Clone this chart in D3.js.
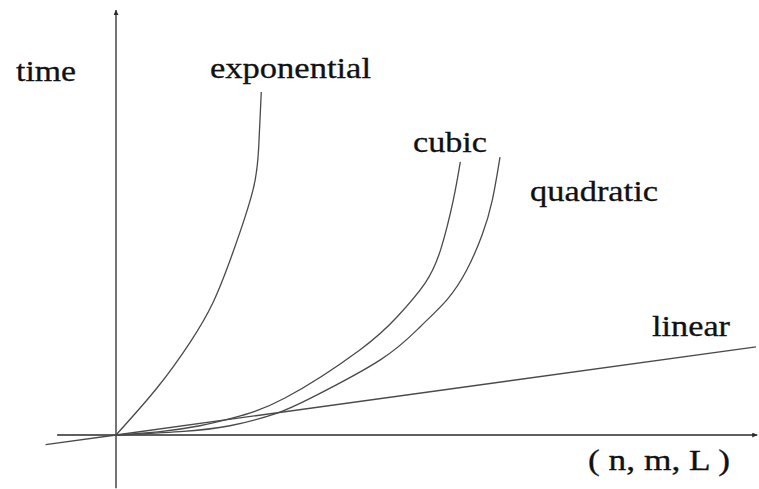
<!DOCTYPE html>
<html>
<head>
<meta charset="utf-8">
<script src="https://cdn.jsdelivr.net/npm/d3@7"></script>
<style>
	body { margin: 0; background: #fff; }
	svg { display: block; }
	.curve { fill: none; stroke: #4a4a4a; stroke-width: 1.3; }
	.axis-line { stroke: #2a2a2a; stroke-width: 1.3; }
</style>
</head>
<body>
<svg id="chart" width="759" height="489"></svg>
<script>

// Growth curves (arbitrary units)
const expX   = [0, 0.64, 1.16, 1.52, 1.83, 2.14, 2.23, 2.27];
const expY   = [0, 1.37, 2.71, 3.88, 5.34, 7.14, 8.40, 10.0];

const cubicX = [0, 0.69, 1.31, 1.83, 2.64, 3.81, 4.39, 4.83, 5.08, 5.27, 5.38];
const cubicY = [0, 0.10, 0.27, 0.50, 1.08, 2.48, 3.44, 4.43, 5.45, 6.85, 7.96];

const quadX  = [0, 1.00, 1.78, 2.52, 3.08, 4.13, 4.75, 5.17, 5.48, 5.72, 5.88, 6.00];
const quadY  = [0, 0.10, 0.27, 0.64, 1.11, 2.19, 3.15, 3.94, 4.81, 5.83, 6.85, 8.10];

const linX   = [-1.1, 0, 10.0];
const linY   = [-0.28, 0, 2.57];

// axis extents
const xAxisRange = [-0.92, 10.02];
const yAxisRange = [-1.55, 12.39];

const labels = ["time", "exponential", "cubic", "quadratic", "linear", "( n, m, L )"];

const width = 759, height = 489;

// Scales
const xScale = d3.scaleLinear().domain([0, 10]).range([116, 756]);
const yScale = d3.scaleLinear().domain([0, 10]).range([435, 92]);

const svg = d3.select("#chart");

// arrow head
svg.append("defs")
	.append("marker")
		.attr("id", "arrow")
		.attr("viewBox", "0 0 10 10")
		.attr("refX", 10)
		.attr("refY", 5)
		.attr("markerWidth", 9)
		.attr("markerHeight", 5)
		.attr("markerUnits", "userSpaceOnUse")
		.attr("orient", "auto")
	.append("path")
		.attr("d", "M0,0 L10,5 L0,10 z")
		.attr("fill", "#2a2a2a");

// Axes
svg.append("line")
	.classed("axis-line", true)
	.attr("x1", xScale(xAxisRange[0]))
	.attr("y1", yScale(0))
	.attr("x2", xScale(xAxisRange[1]))
	.attr("y2", yScale(0))
	.attr("marker-end", "url(#arrow)");

svg.append("line")
	.classed("axis-line", true)
	.attr("x1", xScale(0))
	.attr("y1", yScale(yAxisRange[0]))
	.attr("x2", xScale(0))
	.attr("y2", yScale(yAxisRange[1]))
	.attr("marker-end", "url(#arrow)");

// Curves - natural spline keeps the bends smooth
const series = [
	{ xs: expX, ys: expY, curve: d3.curveNatural },
	{ xs: cubicX, ys: cubicY, curve: d3.curveNatural },
	{ xs: quadX, ys: quadY, curve: d3.curveNatural },
	{ xs: linX, ys: linY, curve: d3.curveLinear }
];

svg.selectAll(".curve")
	.data(series)
	.enter()
	.append("path")
		.classed("curve", true)
		.attr("d", s => d3.line()
			.x(d => xScale(d[0]))
			.y(d => yScale(d[1]))
			.curve(s.curve)(s.xs.map((x, i) => [x, s.ys[i]])));

// Labels (position, stretched width)
const labelPos = [
	{ x: 16,  y: 81,  w: 60 },
	{ x: 210, y: 78,  w: 161 },
	{ x: 413, y: 152, w: 74 },
	{ x: 530, y: 201, w: 128 },
	{ x: 652, y: 336, w: 78 },
	{ x: 588, y: 470, w: 142 }
];

svg.selectAll(".lbl")
	.data(labels)
	.enter()
	.append("text")
		.classed("lbl", true)
		.attr("x", (d, i) => labelPos[i].x)
		.attr("y", (d, i) => labelPos[i].y)
		.attr("textLength", (d, i) => labelPos[i].w)
		.attr("lengthAdjust", "spacingAndGlyphs")
		.style("font-family", "'Liberation Serif'")
		.style("font-size", "29px")
		.style("fill", "#111")
		.style("stroke", "#111")
		.style("stroke-width", "0.3")
		.text(d => d);

</script>
</body>
</html>
